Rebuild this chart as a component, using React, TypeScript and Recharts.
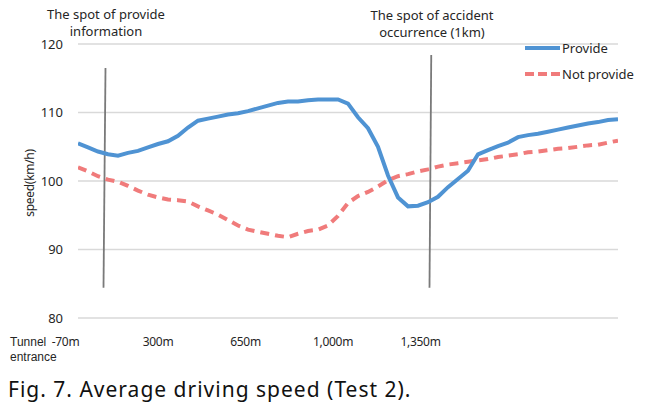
import React from 'react';
import { LineChart, Line, XAxis, YAxis, CartesianGrid, ReferenceLine, Label } from 'recharts';

// distance along the route (m)
const distanceM = [
  -20, 20, 60, 100, 140, 180, 220, 260, 300, 340, 380, 420, 460, 500, 540, 580, 620, 660, 700,
  740, 780, 820, 860, 900, 940, 980, 1020, 1060, 1100, 1140, 1180, 1220, 1260, 1300, 1340, 1380,
  1420, 1460, 1500, 1540, 1580, 1620, 1660, 1700, 1740, 1780, 1820, 1860, 1900, 1940, 1980, 2020,
  2060, 2100, 2140,
];

const provide = [
  105.5, 104.9, 104.3, 103.9, 103.7, 104.1, 104.4, 104.9, 105.4, 105.8, 106.6, 107.8, 108.8, 109.1,
  109.4, 109.7, 109.9, 110.2, 110.6, 111.0, 111.4, 111.6, 111.6, 111.8, 111.9, 111.9, 111.9, 111.3,
  109.3, 107.7, 105.0, 100.8, 97.6, 96.3, 96.4, 96.9, 97.7, 99.1, 100.3, 101.5, 103.9, 104.5, 105.1,
  105.6, 106.4, 106.7, 106.9, 107.2, 107.5, 107.8, 108.1, 108.4, 108.6, 108.9, 109.0,
];

const notProvide = [
  102.0, 101.4, 100.7, 100.2, 99.9, 99.3, 98.6, 98.0, 97.6, 97.3, 97.2, 97.0, 96.3, 95.7, 95.1,
  94.3, 93.5, 92.9, 92.6, 92.3, 92.0, 91.8, 92.3, 92.7, 92.9, 93.5, 94.9, 96.8, 97.8, 98.4, 99.2,
  100.1, 100.7, 101.0, 101.4, 101.7, 102.1, 102.4, 102.6, 102.8, 103.0, 103.2, 103.5, 103.7, 103.9,
  104.2, 104.3, 104.5, 104.7, 104.8, 105.0, 105.2, 105.3, 105.6, 105.9,
];

const xTickValues = [-70, 300, 650, 1000, 1350];
const xTickLabels = ['-70m', '300m', '650m', '1,000m', '1,350m'];
const yTicks = [80, 90, 100, 110, 120];

// marker lines (data coordinates)
const infoSpot = { xTop: 90, xBottom: 82, yTop: 116.5, yBottom: 84.4 };
const accidentSpot = { xTop: 1393, xBottom: 1386, yTop: 118.4, yBottom: 84.4 };

const FONT = '"Noto Sans", "Noto Sans CJK KR", sans-serif';
const SMALL_FONT = '"Liberation Sans", Arial, sans-serif';
const BLUE = '#4f93d3';
const RED = '#f07b7b';
const TEXT = '#262626';

export default function App() {
  const data = distanceM.map((d, i) => ({ d, provide: provide[i], notProvide: notProvide[i] }));
  return (
    <div
      style={{
        position: 'absolute',
        left: 0,
        top: 0,
        width: 652,
        height: 412,
        background: '#fff',
        fontFamily: FONT,
        color: TEXT,
        overflow: 'hidden',
      }}
    >
      <LineChart width={652} height={412} data={data} margin={{ top: 44, right: 34, bottom: 64, left: 0 }}>
        <CartesianGrid vertical={false} stroke="#d9d9d9" strokeWidth={1.5} />
        <XAxis
          type="number"
          dataKey="d"
          domain={[-20, 2140]}
          allowDataOverflow
          ticks={xTickValues}
          interval={0}
          tickFormatter={(v: number) => xTickLabels[xTickValues.indexOf(v)]}
          tickLine={false}
          axisLine={false}
          tickSize={0}
          tickMargin={19}
          height={30}
          tick={{ fill: TEXT, fontSize: 12, fontFamily: FONT, letterSpacing: -0.3 }}
        />
        <YAxis
          domain={[80, 120]}
          ticks={yTicks}
          interval={0}
          width={78}
          tickLine={false}
          axisLine={false}
          tickSize={0}
          tickMargin={15}
          tick={{ fill: TEXT, fontSize: 13, fontFamily: FONT }}
        >
          <Label
            value="speed(km/h)"
            angle={-90}
            position="center"
            dx={-9}
            dy={2}
            style={{ fill: TEXT, fontSize: 12, fontFamily: FONT, textAnchor: 'middle', letterSpacing: -0.3 }}
          />
        </YAxis>
        <ReferenceLine
          segment={[
            { x: infoSpot.xTop, y: infoSpot.yTop },
            { x: infoSpot.xBottom, y: infoSpot.yBottom },
          ]}
          stroke="#7a7a7a"
          strokeWidth={1.8}
        />
        <ReferenceLine
          segment={[
            { x: accidentSpot.xTop, y: accidentSpot.yTop },
            { x: accidentSpot.xBottom, y: accidentSpot.yBottom },
          ]}
          stroke="#7a7a7a"
          strokeWidth={1.8}
        />
        <Line
          type="linear"
          dataKey="notProvide"
          stroke={RED}
          strokeWidth={4}
          strokeDasharray="9 6"
          dot={false}
          isAnimationActive={false}
        />
        <Line
          type="linear"
          dataKey="provide"
          stroke={BLUE}
          strokeWidth={4}
          dot={false}
          isAnimationActive={false}
        />
      </LineChart>

      {/* annotations */}
      <div
        style={{
          position: 'absolute',
          left: 6,
          top: 6,
          width: 200,
          textAlign: 'center',
          fontSize: 13,
          lineHeight: '17px',
          whiteSpace: 'nowrap',
        }}
      >
        The spot of provide
        <br />
        information
      </div>
      <div
        style={{
          position: 'absolute',
          left: 332,
          top: 7,
          width: 200,
          textAlign: 'center',
          fontSize: 13,
          lineHeight: '17px',
          whiteSpace: 'nowrap',
        }}
      >
        The spot of accident
        <br />
        occurrence (1km)
      </div>

      {/* legend */}
      <svg style={{ position: 'absolute', left: 520, top: 38, overflow: 'visible' }} width={45} height={45}>
        <line x1={5} y1={10} x2={40} y2={10} stroke={BLUE} strokeWidth={4} />
        <line x1={5} y1={36} x2={40} y2={36} stroke={RED} strokeWidth={4} strokeDasharray="9 4" />
      </svg>
      <div style={{ position: 'absolute', left: 562, top: 39, fontSize: 13, lineHeight: '18px', whiteSpace: 'nowrap' }}>
        Provide
      </div>
      <div style={{ position: 'absolute', left: 562, top: 65, fontSize: 13, lineHeight: '18px', whiteSpace: 'nowrap' }}>
        Not provide
      </div>

      {/* axis side label */}
      <div style={{ position: 'absolute', left: 10, top: 335, fontSize: 12, lineHeight: '15px', fontFamily: SMALL_FONT, whiteSpace: 'nowrap' }}>
        Tunnel
      </div>
      <div style={{ position: 'absolute', left: 10, top: 350, fontSize: 12, lineHeight: '15px', fontFamily: SMALL_FONT, whiteSpace: 'nowrap' }}>
        entrance
      </div>

      {/* caption */}
      <div
        style={{
          position: 'absolute',
          left: 8,
          top: 376,
          fontSize: 21,
          lineHeight: '26px',
          letterSpacing: 1,
          whiteSpace: 'nowrap',
          color: '#111',
        }}
      >
        Fig. 7. Average driving speed (Test 2).
      </div>
    </div>
  );
}
